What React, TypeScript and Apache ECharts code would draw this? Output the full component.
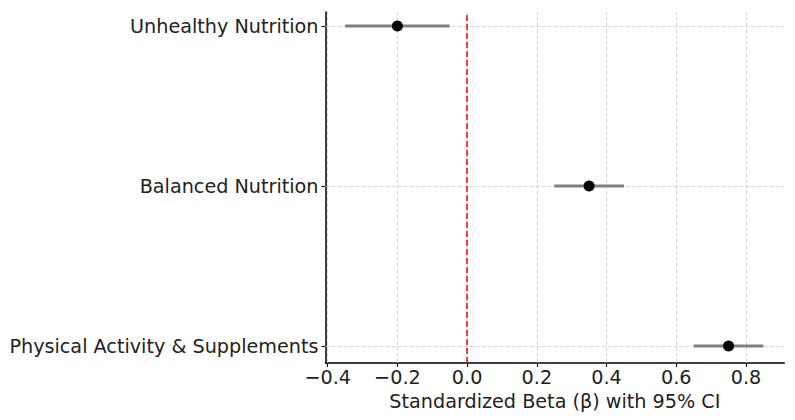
import React, { useEffect, useRef } from "react";
import * as echarts from "echarts";

const categories = ["Physical Activity & Supplements", "Balanced Nutrition", "Unhealthy Nutrition"];
const betas = [0.75, 0.35, -0.2];
const ciLow = [0.65, 0.25, -0.35];
const ciHigh = [0.85, 0.45, -0.05];
const xTicks = [-0.4, -0.2, 0.0, 0.2, 0.4, 0.6, 0.8];
const yTicks = [0, 1, 2];

const FONT = "DejaVu Sans";
const FS = 19.2;

export default function App() {
  const ref = useRef<HTMLDivElement>(null);
  useEffect(() => {
    if (!ref.current) return;
    const chart = echarts.init(ref.current, undefined, { renderer: "svg" });
    const gridDash = { color: "#cccccc", width: 0.8, type: [4, 2] as any };
    chart.setOption({
      animation: false,
      backgroundColor: "#ffffff",
      grid: { left: 325.5, right: 10.7, top: 12, bottom: 57, containLabel: false },
      xAxis: {
        type: "value",
        min: -0.4063,
        max: 0.91,
        name: "Standardized Beta (β) with 95% CI",
        nameLocation: "middle",
        nameGap: 27,
        nameTextStyle: { fontFamily: FONT, fontSize: FS, color: "#222" },
        axisLine: { show: true, onZero: false, lineStyle: { color: "#000", width: 1.5 } },
        axisTick: { show: true, inside: false, length: 4, customValues: xTicks, lineStyle: { color: "#000" } },
        axisLabel: {
          customValues: xTicks,
          fontFamily: FONT,
          fontSize: FS,
          color: "#222",
          margin: 5,
          formatter: (v: number) => (v < 0 ? "\u2212" + Math.abs(v).toFixed(1) : v.toFixed(1)),
        },
        splitLine: { show: false },
      },
      yAxis: {
        type: "value",
        min: -0.106,
        max: 2.0875,
        axisLine: { show: true, onZero: false, lineStyle: { color: "#000", width: 1.5 } },
        axisTick: { show: true, inside: false, length: 4, customValues: yTicks, lineStyle: { color: "#000" } },
        axisLabel: {
          customValues: yTicks,
          fontFamily: FONT,
          fontSize: FS,
          color: "#222",
          margin: 7,
          formatter: (v: number) => categories[Math.round(v)] ?? "",
        },
        splitLine: { show: false },
      },
      series: [
        {
          type: "scatter",
          data: [],
          z: 1,
          silent: true,
          markLine: {
            z: 1,
            silent: true,
            symbol: ["none", "none"],
            label: { show: false },
            lineStyle: gridDash,
            data: [
              ...xTicks.map((v) => ({ xAxis: v })),
              ...yTicks.map((v) => ({ yAxis: v })),
            ],
          },
        },
        {
          type: "scatter",
          data: [],
          z: 2,
          silent: true,
          markLine: {
            z: 2,
            silent: true,
            symbol: ["none", "none"],
            label: { show: false },
            lineStyle: { color: "#ff0000", width: 1.5, type: [6, 3] as any },
            data: [{ xAxis: 0 }],
          },
        },
        {
          type: "custom",
          z: 3,
          silent: true,
          data: categories.map((_, i) => [ciLow[i], ciHigh[i], i]),
          renderItem: (params: any, api: any) => {
            const a = api.coord([api.value(0), api.value(2)]);
            const b = api.coord([api.value(1), api.value(2)]);
            return {
              type: "line",
              shape: { x1: a[0], y1: a[1], x2: b[0], y2: b[1] },
              style: { stroke: "#808080", lineWidth: 3, fill: null },
            };
          },
          encode: { x: [0, 1], y: 2 },
        },
        {
          type: "scatter",
          z: 4,
          symbol: "circle",
          symbolSize: 11,
          itemStyle: { color: "#000", opacity: 1 },
          data: categories.map((_, i) => [betas[i], i]),
        },
      ],
    });
    return () => chart.dispose();
  }, []);
  return <div ref={ref} style={{ width: 795, height: 420, position: "absolute", left: 0, top: 0 }} />;
}
